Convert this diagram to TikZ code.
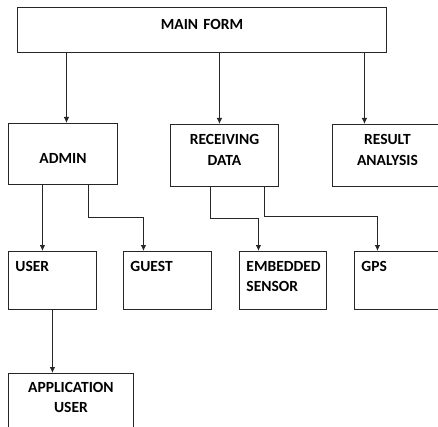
\documentclass[tikz,border=0pt]{standalone}
\usepackage{fontspec}
\setmainfont{Carlito}
\usetikzlibrary{arrows.meta}

\begin{document}
\begin{tikzpicture}[
  x=1pt, y=-1pt,
  font=\bfseries\fontsize{15.5}{20.5}\selectfont,
  box/.style={draw=black!85, line width=0.9pt, anchor=north west, inner ysep=0pt},
  cbox/.style={box, align=center, inner xsep=0pt},
  lbox/.style={box, align=left, inner xsep=7pt, text width=74pt, text height=19.7pt, text depth=38.3pt},
  arw/.style={-{Latex[length=6pt, width=5.5pt]}, line width=0.9pt, draw=black!85}
  ]
\useasboundingbox (0,0) rectangle (438,427);

% top level
\node [cbox, text width=369pt, text height=22pt, text depth=23pt] (main) at (17,7) {MAIN FORM};

\node [cbox, text width=109pt, text height=40pt, text depth=21pt] (admin) at (8,123) {ADMIN};
\node [cbox, text width=108pt, text height=20.5pt, text depth=41.5pt] (recv) at (170,124) {RECEIVING\\DATA};
\node [cbox, text width=110pt, text height=20.5pt, text depth=41.5pt] (result) at (332,124) {RESULT\\ANALYSIS};

% second level
\node [lbox] (user) at (8,251) {USER};
\node [lbox] (guest) at (123,251) {GUEST};
\node [lbox, text width=73pt] (embedded) at (239,251) {EMBEDDED\\SENSOR};
\node [lbox] (gps) at (354,251) {GPS};

\node [cbox, text width=125pt, text height=19pt, text depth=70pt] (appuser) at (8,373) {APPLICATION\\USER};

\draw [arw] ([xshift=3.5pt]admin.north |- main.south) -- ([xshift=3.5pt]admin.north);
\draw [arw] ([xshift=-5pt]recv.north |- main.south) -- ([xshift=-5pt]recv.north);
\draw [arw] ([xshift=-23pt]result.north |- main.south) -- ([xshift=-23pt]result.north);

\draw [arw] ([xshift=-20.5pt]admin.south) -- ([xshift=-20.5pt]admin.south |- user.north);
\draw [arw] ([xshift=25.5pt]admin.south) -- ++(0,33) -| ([xshift=-24pt]guest.north);
\draw [arw] ([xshift=-14pt]recv.south) -- ++(0,32) -| ([xshift=-24.5pt]embedded.north);
\draw [arw] ([xshift=40pt]recv.south) -- ++(0,30) -| ([xshift=-21pt]gps.north);

\draw [arw] (user.south) -- (user.south |- appuser.north);

\end{tikzpicture}
\end{document}
